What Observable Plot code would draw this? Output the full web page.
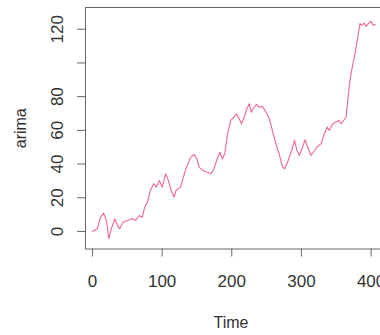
<!DOCTYPE html>
<html><head><meta charset="utf-8">
<script src="https://cdn.jsdelivr.net/npm/d3@7"></script>
<script src="https://cdn.jsdelivr.net/npm/@observablehq/plot@0.6"></script>
<style>html,body{margin:0;padding:0;background:#fff;overflow:hidden;width:380px;height:335px}#chart{width:388px;height:335px}#chart svg{max-width:none!important;width:388px;height:335px}</style>
</head><body><div id="chart"></div>
<script>
const time = [0, 7, 11.5, 16, 20, 23.5, 27, 32, 36, 39, 44, 50, 57, 62, 67, 71.5, 75, 79, 83, 88, 91.5, 96, 100, 105, 109, 113, 117, 120, 126.5, 131, 135, 141, 146, 150, 153, 158, 165, 170, 174.5, 179, 183, 186.5, 190, 194, 198.5, 203, 207, 210.5, 214, 218.7, 221.6, 225, 228, 232, 236, 239, 244, 249, 254, 258.5, 263, 268, 273, 276, 281, 286, 290, 293.5, 297, 301.7, 305, 309, 313.7, 317.5, 322, 328, 333, 336.7, 340, 345, 349.6, 353.5, 357, 360.7, 364, 366.5, 369, 372, 376, 378.4, 381, 384, 386.6, 389.5, 393, 396, 400, 403, 405.8];
const arima = [0, 1.6, 8.5, 10.9, 6.5, -4.3, 1.6, 7.5, 3.6, 1.6, 5.5, 6.5, 7.5, 6.5, 9.5, 8.5, 14.4, 17.4, 24.3, 28.3, 26.3, 30.3, 26.3, 34.2, 30.3, 24.3, 20.4, 24.3, 26.3, 33, 38.2, 44.1, 45.7, 43.1, 38.2, 36.2, 35.2, 34.2, 37.2, 43.1, 47, 43.1, 46.1, 58, 65.9, 67.8, 69.8, 66.9, 63.9, 68.8, 72.8, 75.8, 70.8, 73.8, 75.4, 73.8, 74.2, 70.8, 66.9, 59.5, 52.5, 46, 38.2, 37.2, 42.1, 48.1, 54, 48.1, 45.1, 50, 54.4, 50, 45.1, 47, 50, 52, 58, 61.9, 60, 63.9, 64.9, 65.9, 63.9, 65.9, 67.8, 77.7, 87.7, 95.5, 103.4, 109.4, 115.3, 123.3, 122.3, 123.6, 121.7, 123.3, 124.8, 122.3, 122.8];
const xTicks = [0, 100, 200, 300, 400];
const yTicks = [0, 20, 40, 60, 80, 100, 120];
const yTickLabels = [0, 20, 40, 60, 80, 120];
const xTitle = "Time";
const yTitle = "arima";

const data = time.map((t, i) => ({t, v: arima[i]}));
const chart = Plot.plot({
  width: 388, height: 335,
  marginLeft: 85, marginRight: 0, marginTop: 7, marginBottom: 86.5,
  x: {domain: [-10, 425]},
  y: {domain: [-10.4, 132.9]},
  style: {fontFamily: "'Liberation Sans', Arial, sans-serif", fontSize: "17px", color: "#333", background: "#fff", maxWidth: "none"},
  marks: [
    Plot.frame({stroke: "#666"}),
    Plot.axisX({ticks: xTicks, tickSize: 8, tickPadding: 18, label: null, stroke: "#666", fill: "#333"}),
    Plot.axisY({ticks: yTicks, tickSize: 8, tickFormat: () => "", label: null, stroke: "#666"}),
    Plot.text(yTickLabels, {y: d => d, text: d => String(d), frameAnchor: "left", textAnchor: "middle", dx: -28, rotate: -90, fontSize: 17, fill: "#333"}),
    Plot.text([yTitle], {text: d => d, frameAnchor: "left", textAnchor: "middle", dx: -65, rotate: -90, fontSize: 16, fill: "#333"}),
    Plot.text([xTitle], {text: d => d, frameAnchor: "bottom", textAnchor: "middle", dy: 79, dx: -6, fontSize: 16, fill: "#333"}),
    Plot.line(data, {x: "t", y: "v", stroke: "#ef6790", strokeWidth: 1.1})
  ]
});
document.getElementById("chart").appendChild(chart);
</script>
</body></html>
